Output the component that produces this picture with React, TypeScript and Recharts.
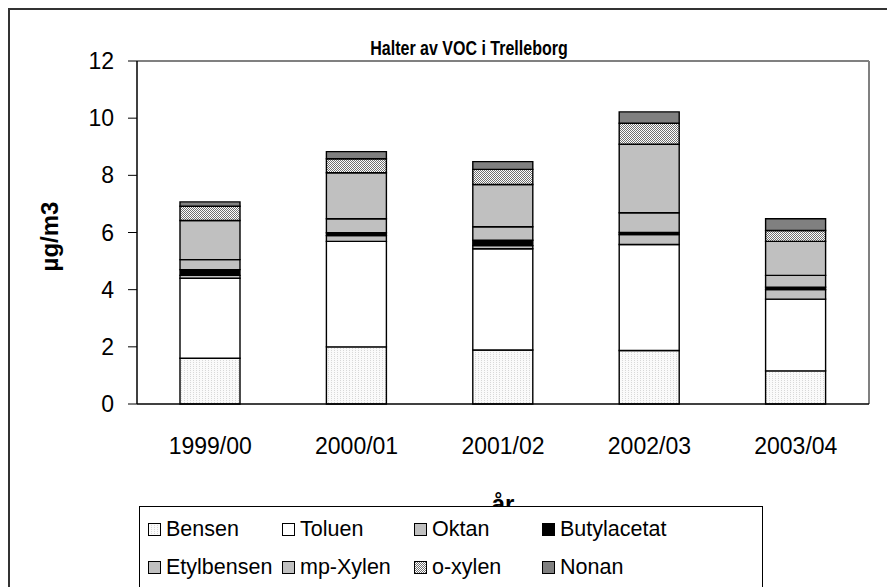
import React from 'react';
import { Bar, BarChart, Label, ReferenceLine, XAxis, YAxis } from 'recharts';

const FONT = '"Liberation Sans", Arial, sans-serif';

const periods = ['1999/00', '2000/01', '2001/02', '2002/03', '2003/04'];
const bensen = [1.6, 2.0, 1.89, 1.87, 1.16];
const toluen = [2.8, 3.69, 3.54, 3.71, 2.51];
const oktan = [0.1, 0.2, 0.11, 0.35, 0.33];
const butylacetat = [0.2, 0.1, 0.19, 0.07, 0.09];
const etylbensen = [0.35, 0.49, 0.47, 0.69, 0.41];
const mpXylen = [1.37, 1.61, 1.48, 2.4, 1.19];
const oXylen = [0.5, 0.49, 0.53, 0.73, 0.38];
const nonan = [0.15, 0.25, 0.27, 0.4, 0.41];
const yTicks = [0, 2, 4, 6, 8, 10, 12];
const slotTicks = [0, 1, 2, 3, 4, 5];

const series = [
  { key: 'bensen', name: 'Bensen', values: bensen, fill: 'url(#bensenFill)' },
  { key: 'toluen', name: 'Toluen', values: toluen, fill: '#ffffff' },
  { key: 'oktan', name: 'Oktan', values: oktan, fill: '#c0c0c0' },
  { key: 'butylacetat', name: 'Butylacetat', values: butylacetat, fill: '#000000' },
  { key: 'etylbensen', name: 'Etylbensen', values: etylbensen, fill: '#c0c0c0' },
  { key: 'mpXylen', name: 'mp-Xylen', values: mpXylen, fill: '#c0c0c0' },
  { key: 'oXylen', name: 'o-xylen', values: oXylen, fill: 'url(#checkFill)' },
  { key: 'nonan', name: 'Nonan', values: nonan, fill: '#808080' },
];

const data = periods.map((period, i) => {
  const row: Record<string, string | number> = { period, slot: i + 0.5 };
  series.forEach((s) => {
    row[s.key] = s.values[i];
  });
  return row;
});

const legendRows = [series.slice(0, 4), series.slice(4, 8)];

export default function App() {
  return (
    <div
      style={{
        position: 'relative',
        width: 900,
        height: 600,
        border: '2px solid #333',
        background: '#fff',
        fontFamily: FONT,
      }}
    >
      <style>{'html,body{overflow:hidden}'}</style>
      <div
        style={{
          position: 'absolute',
          left: 0,
          top: 26,
          width: 918,
          textAlign: 'center',
          fontSize: 20,
          lineHeight: '24px',
          fontWeight: 'bold',
          transform: 'scaleX(0.8)',
          transformOrigin: '459px 0',
        }}
      >
        Halter av VOC i Trelleborg
      </div>
      <BarChart
        width={880}
        height={600}
        data={data}
        margin={{ top: 51, right: 21, left: 0, bottom: 146 }}
        barSize={60}
        style={{ fontFamily: FONT }}
      >
        <defs>
          <pattern id="bensenFill" width={3} height={2} patternUnits="userSpaceOnUse">
            <rect width={3} height={2} fill="#fafafa" />
            <rect width={1} height={1} fill="#d8d8d8" />
          </pattern>
          <pattern id="checkFill" width={2} height={2} patternUnits="userSpaceOnUse">
            <rect width={2} height={2} fill="#ffffff" />
            <rect width={1} height={1} fill="#707070" />
            <rect x={1} y={1} width={1} height={1} fill="#707070" />
          </pattern>
        </defs>
        <XAxis
          xAxisId="slots"
          type="number"
          dataKey="slot"
          domain={[0, 5]}
          ticks={slotTicks}
          height={0}
          axisLine={false}
          tickLine={{ stroke: '#000' }}
          tickSize={10}
          tickFormatter={() => ''}
        />
        <XAxis
          dataKey="period"
          height={60}
          interval={0}
          axisLine={{ stroke: '#000', strokeWidth: 1.5 }}
          tickLine={false}
          tickSize={0}
          tickMargin={34}
          tick={{ fill: '#000', fontSize: 23 }}
        >
          <Label
            content={({ viewBox }: any) => (
              <text
                x={viewBox.x + viewBox.width / 2}
                y={viewBox.y + 108}
                textAnchor="middle"
                fontSize={24}
                fontWeight="bold"
                fill="#000"
              >
                år
              </text>
            )}
          />
        </XAxis>
        <YAxis
          domain={[0, 12]}
          ticks={yTicks}
          width={127}
          axisLine={{ stroke: '#000', strokeWidth: 1.5 }}
          tickLine={{ stroke: '#000' }}
          tickSize={9}
          tickMargin={14}
          tick={{ fill: '#000', fontSize: 23 }}
        >
          <Label
            content={({ viewBox }: any) => {
              const x = 48;
              const y = viewBox.y + viewBox.height / 2 + 4;
              return (
                <text
                  x={x}
                  y={y}
                  transform={`rotate(-90 ${x} ${y})`}
                  textAnchor="middle"
                  fontSize={24}
                  fontWeight="bold"
                  fill="#000"
                >
                  µg/m3
                </text>
              );
            }}
          />
        </YAxis>
        <ReferenceLine y={12} stroke="#808080" strokeWidth={2} />
        <ReferenceLine xAxisId="slots" x={5} stroke="#808080" strokeWidth={2} />
        {series.map((s) => (
          <Bar
            key={s.key}
            dataKey={s.key}
            name={s.name}
            stackId="voc"
            fill={s.fill}
            stroke="#000"
            strokeWidth={1.4}
            isAnimationActive={false}
          />
        ))}
      </BarChart>
      <div
        style={{
          position: 'absolute',
          left: 129,
          top: 496,
          width: 624,
          height: 120,
          border: '1px solid #000',
          background: '#fff',
          boxSizing: 'border-box',
          paddingTop: 3,
          paddingLeft: 8,
        }}
      >
        {legendRows.map((row, r) => (
          <div key={r} style={{ display: 'flex', height: 38, alignItems: 'center' }}>
            {row.map((s, c) => (
              <div
                key={s.key}
                style={{
                  display: 'flex',
                  alignItems: 'center',
                  width: [134, 132, 128, 200][c],
                  fontSize: 21.5,
                  whiteSpace: 'nowrap',
                }}
              >
                <svg width={13} height={13} style={{ marginRight: 5 }}>
                  <rect x={0.5} y={0.5} width={12} height={12} fill={s.fill} stroke="#000" />
                </svg>
                {s.name}
              </div>
            ))}
          </div>
        ))}
      </div>
    </div>
  );
}
